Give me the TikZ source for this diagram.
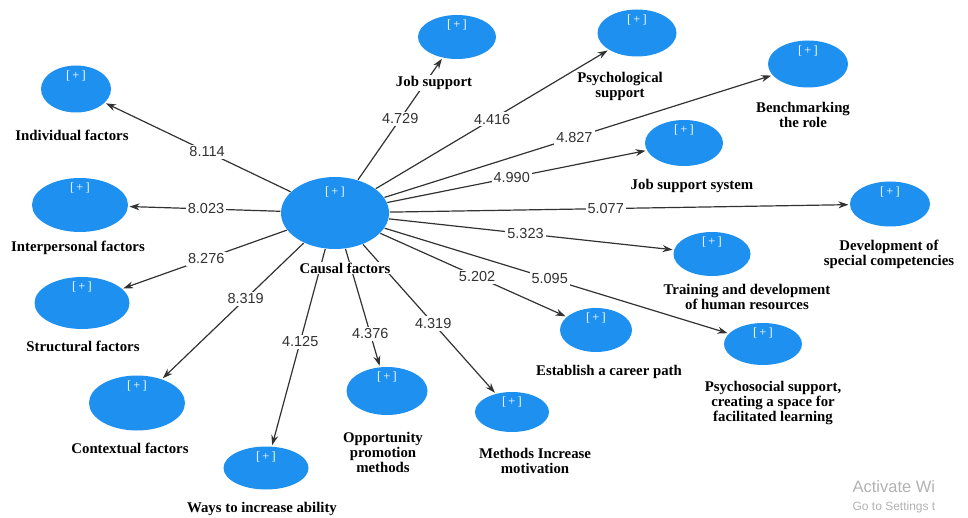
\documentclass[tikz,border=0pt]{standalone}
\usepackage{fontspec}
\setmainfont{Liberation Serif}
\setsansfont{Liberation Sans}
\usetikzlibrary{arrows.meta,shapes.geometric}
\definecolor{lvblue}{RGB}{30,144,240}
\definecolor{edgegray}{RGB}{50,50,50}

\begin{document}
\begin{tikzpicture}[
            x = 1pt, y = -1pt, % one unit per pixel, y pointing down
            > = {Stealth[length=10pt,width=7pt]}, % arrow head style
            shorten > = 1pt, % don't touch arrow head to node
            line width = 1.2pt, % line style
            draw = edgegray,
            lv/.style = {ellipse, fill=lvblue, inner sep=0pt, label={[plus,#1]north:{[\,+\,]}}},
            lv/.default = {yshift=0pt},
            plus/.style = {anchor=north, yshift=-5pt, inner sep=0pt, text=white, font=\fontsize{12.5}{12.5}\selectfont},
            lbl/.style = {fill=white, inner sep=1pt, align=center, font=\bfseries\fontsize{14.8}{15}\selectfont},
            num/.style = {fill=white, inner sep=2pt, text=edgegray, font=\sffamily\fontsize{14.5}{15}\selectfont}
        ]

	\clip (0,0) rectangle (968,518);

	% constructs
	\node[lv={yshift=-5pt}, minimum width=108pt, minimum height=72pt] (C) at (335,213) {};
	\node[lv, minimum width=70pt, minimum height=47pt] (ind) at (76,89) {};
	\node[lv, minimum width=96pt, minimum height=54pt] (inter) at (80,205) {};
	\node[lv, minimum width=95pt, minimum height=52pt] (struc) at (82,303) {};
	\node[lv, minimum width=96pt, minimum height=55pt] (cont) at (137,403) {};
	\node[lv, minimum width=85pt, minimum height=43pt] (ways) at (266,468) {};
	\node[lv, minimum width=81pt, minimum height=48pt] (opp) at (387,391) {};
	\node[lv, minimum width=74pt, minimum height=40pt] (motiv) at (512,412) {};
	\node[lv, minimum width=72pt, minimum height=44pt] (career) at (596,330) {};
	\node[lv, minimum width=78pt, minimum height=42pt] (psysoc) at (763,344) {};
	\node[lv, minimum width=77pt, minimum height=44pt] (train) at (712,254) {};
	\node[lv, minimum width=80pt, minimum height=45pt] (dev) at (890,204) {};
	\node[lv, minimum width=78pt, minimum height=46pt] (jss) at (684,143) {};
	\node[lv, minimum width=80pt, minimum height=47pt] (bench) at (808,64) {};
	\node[lv, minimum width=79pt, minimum height=47pt] (psych) at (637,33) {};
	\node[lv, minimum width=78pt, minimum height=44pt] (job) at (457,37) {};

	% paths
	\draw[->] (C) edge node[num,pos=.45] {8.114} (ind);
	\draw[->] (C) edge node[num,pos=.49] {8.023} (inter);
	\draw[->] (C) edge node[num,pos=.49] {8.276} (struc);
	\draw[->] (C) edge node[num,pos=.41] {8.319} (cont);
	\draw[->] (C) edge node[num,pos=.47] {4.125} (ways);
	\draw[->] (C) edge node[num,pos=.72] {4.376} (opp);
	\draw[->] (C) edge node[num,pos=.53] {4.319} (motiv);
	\draw[->] (C) edge node[num,pos=.52] {5.202} (career);
	\draw[->] (C) edge node[num,pos=.48] {5.095} (psysoc);
	\draw[->] (C) edge node[num,pos=.48] {5.323} (train);
	\draw[->] (C) edge node[num,pos=.47] {5.077} (dev);
	\draw[->] (C) edge node[num,pos=.48] {4.990} (jss);
	\draw[->] (C) edge node[num,pos=.49] {4.827} (bench);
	\draw[->] (C) edge node[num,pos=.50] {4.416} (psych);
	\draw[->] (C) edge node[num,pos=.50] {4.729} (job);

	% names
	\node[lbl] (CL) at (345,268) {Causal factors};
	\node[lbl] (indL) at (72,135) {Individual factors};
	\node[lbl] (interL) at (78,248) {Interpersonal factors};
	\node[lbl] (strucL) at (83,346) {Structural factors};
	\node[lbl] (contL) at (130,448) {Contextual factors};
	\node[lbl] (waysL) at (262,509) {Ways to increase ability};
	\node[lbl] (oppL) at (383,452) {Opportunity\\promotion\\methods};
	\node[lbl] (motivL) at (535,461) {Methods Increase\\motivation};
	\node[lbl] (careerL) at (609,372) {Establish a career path};
	\node[lbl] (psysocL) at (773,403) {Psychosocial support,\\creating a space for\\facilitated learning};
	\node[lbl] (trainL) at (747,297) {Training and development\\of human resources};
	\node[lbl] (devL) at (889,254) {Development of\\special competencies};
	\node[lbl] (jssL) at (692,186) {Job support system};
	\node[lbl] (benchL) at (803,115) {Benchmarking\\the role};
	\node[lbl] (psychL) at (620,86) {Psychological\\support};
	\node[lbl] (jobL) at (434,83) {Job support};

	% watermark
	\node[anchor=west, inner sep=0pt, text=black!30, font=\sffamily\fontsize{16.5}{16.5}\selectfont] (actW) at (852,487) {Activate Wi};
	\node[anchor=west, inner sep=0pt, text=black!30, font=\sffamily\fontsize{12}{12}\selectfont] (actS) at (852,507) {Go to Settings t};

\end{tikzpicture}
\end{document}
